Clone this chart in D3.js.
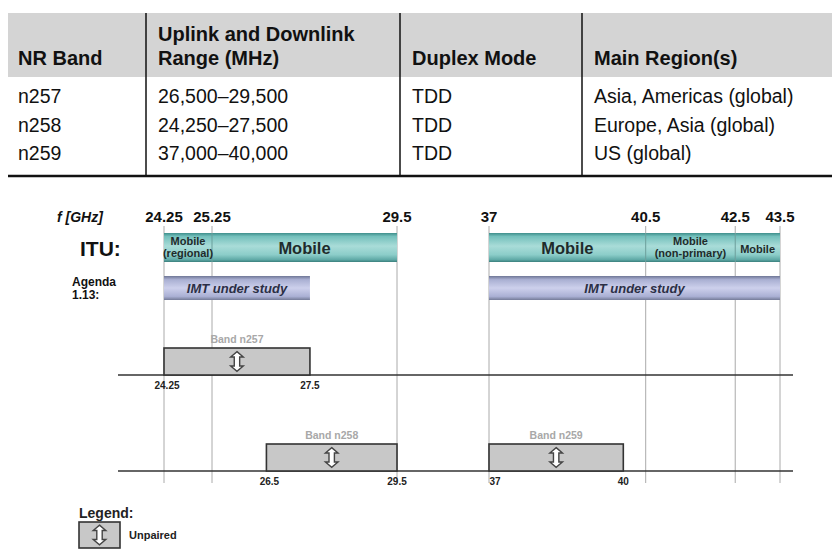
<!DOCTYPE html>
<html>
<head>
<meta charset="utf-8">
<script src="https://cdn.jsdelivr.net/npm/d3@7"></script>
<style>
  body { margin: 0; background: #fff; }
  svg { display: block; }
</style>
</head>
<body>
<div id="chart"></div>
<script>
// table content
const tableHeaders = [["NR Band"], ["Uplink and Downlink", "Range (MHz)"], ["Duplex Mode"], ["Main Region(s)"]];
const tableRows = [
  ["n257", "26,500\u201329,500", "TDD", "Asia, Americas (global)"],
  ["n258", "24,250\u201327,500", "TDD", "Europe, Asia (global)"],
  ["n259", "37,000\u201340,000", "TDD", "US (global)"]
];

// frequency markers (GHz)
const topTicks = [24.25, 25.25, 29.5, 37, 40.5, 42.5, 43.5];
const ituSegments = [
  { from: 24.25, to: 25.25, lines: ["Mobile", "(regional)"], big: false },
  { from: 25.25, to: 29.5, lines: ["Mobile"], big: true },
  { from: 37, to: 40.5, lines: ["Mobile"], big: true },
  { from: 40.5, to: 42.5, lines: ["Mobile", "(non-primary)"], big: false },
  { from: 42.5, to: 43.5, lines: ["Mobile"], big: false }
];
const imtSegments = [
  { from: 24.25, to: 27.5, label: "IMT under study" },
  { from: 37, to: 43.5, label: "IMT under study" }
];
const bands = [
  { name: "Band n257", from: 24.25, to: 27.5, row: 0, fromLabel: "24.25", toLabel: "27.5" },
  { name: "Band n258", from: 26.5, to: 29.5, row: 1, fromLabel: "26.5", toLabel: "29.5" },
  { name: "Band n259", from: 37, to: 40, row: 1, fromLabel: "37", toLabel: "40" }
];

const W = 834, H = 553;
const svg = d3.select("#chart").append("svg").attr("width", W).attr("height", H);

// ---------- table ----------
const colX = [0, 146, 400, 582, 834];
const narrow = "'Liberation Sans Narrow', 'Liberation Sans', Arial, sans-serif";
const tableTop = 13, headBottom = 77, tableBottom = 176;
const rowY = d3.scalePoint().domain(d3.range(tableRows.length)).range([96, 153]);

svg.append("rect")
  .attr("x", 8).attr("y", tableTop)
  .attr("width", 824).attr("height", headBottom - tableTop)
  .attr("fill", "#d4d4d4");

svg.selectAll(".col-div")
  .data(colX.slice(1, -1))
  .enter().append("line")
  .attr("x1", d => d).attr("x2", d => d)
  .attr("y1", tableTop).attr("y2", tableBottom)
  .attr("stroke", "#111").attr("stroke-width", 1.5);

svg.append("line")
  .attr("x1", 8).attr("x2", 832)
  .attr("y1", tableBottom).attr("y2", tableBottom)
  .attr("stroke", "#111").attr("stroke-width", 2.5);

tableHeaders.forEach((lines, c) => {
  const t = svg.append("text")
    .attr("x", colX[c] + (c === 0 ? 18 : 12))
    .attr("font-family", narrow).attr("font-weight", "bold")
    .attr("font-size", 20).attr("fill", "#111");
  lines.forEach((l, i) => {
    t.append("tspan").attr("x", colX[c] + (c === 0 ? 18 : 12))
      .attr("y", 65 - (lines.length - 1 - i) * 24).text(l);
  });
});

tableRows.forEach((row, r) => {
  row.forEach((cell, c) => {
    svg.append("text")
      .attr("x", colX[c] + (c === 0 ? 18 : 12))
      .attr("y", rowY(r) + 7)
      .attr("font-family", narrow).attr("font-size", 19.5).attr("fill", "#111")
      .text(cell);
  });
});

// ---------- spectrum chart ----------
const sans = "'Liberation Sans', Arial, sans-serif";
// broken axis: 29.5..37 GHz is compressed
const x = d3.scaleLinear()
  .domain([24.25, 25.25, 29.5, 37, 43.5])
  .range([164, 212, 397, 489, 780]);
const axisY = d3.scalePoint().domain([0, 1]).range([375, 471]);
const bandH = 27;

const defs = svg.append("defs");
const tealG = defs.append("linearGradient").attr("id", "teal").attr("x1", 0).attr("x2", 0).attr("y1", 0).attr("y2", 1);
[[0, "#3f8f8c"], [0.12, "#74c0bc"], [0.45, "#a9dcd8"], [0.75, "#8ccdc9"], [0.92, "#5fa9a6"], [1, "#3a7f7c"]]
  .forEach(s => tealG.append("stop").attr("offset", s[0]).attr("stop-color", s[1]));
const imtG = defs.append("linearGradient").attr("id", "imt").attr("x1", 0).attr("x2", 0).attr("y1", 0).attr("y2", 1);
[[0, "#6f7796"], [0.15, "#a9afd2"], [0.5, "#cdd0ec"], [0.85, "#aab0d4"], [1, "#747b98"]]
  .forEach(s => imtG.append("stop").attr("offset", s[0]).attr("stop-color", s[1]));

// vertical guide lines
svg.selectAll(".guide")
  .data(topTicks)
  .enter().append("line")
  .attr("x1", d => x(d)).attr("x2", d => x(d))
  .attr("y1", 226).attr("y2", 483)
  .attr("stroke", "#aaa").attr("stroke-width", 1);

// top tick labels
svg.append("text")
  .attr("x", 57).attr("y", 222)
  .attr("font-family", sans).attr("font-weight", "bold").attr("font-style", "italic")
  .attr("font-size", 14).attr("fill", "#111")
  .text("f [GHz]");

svg.selectAll(".top-tick")
  .data(topTicks)
  .enter().append("text")
  .attr("x", d => x(d)).attr("y", 222)
  .attr("text-anchor", "middle")
  .attr("font-family", sans).attr("font-weight", "bold").attr("font-size", 15)
  .attr("fill", "#111")
  .text(d => d);

// ITU row
svg.append("text")
  .attr("x", 80).attr("y", 256)
  .attr("font-family", sans).attr("font-weight", "bold").attr("font-size", 21)
  .attr("fill", "#111").text("ITU:");

svg.selectAll(".itu")
  .data(ituSegments)
  .enter().append("rect")
  .attr("x", d => x(d.from)).attr("y", 233)
  .attr("width", d => x(d.to) - x(d.from)).attr("height", 29)
  .attr("fill", "url(#teal)");

svg.selectAll(".itu-div")
  .data(ituSegments.filter((d, i) => i > 0 && ituSegments[i - 1].to === d.from))
  .enter().append("line")
  .attr("x1", d => x(d.from)).attr("x2", d => x(d.from))
  .attr("y1", 233).attr("y2", 262)
  .attr("stroke", "#6a9f9c").attr("stroke-width", 1);

ituSegments.forEach(d => {
  const cx = (x(d.from) + x(d.to)) / 2;
  const fs = d.big ? 16.5 : 11;
  const t = svg.append("text")
    .attr("text-anchor", "middle")
    .attr("font-family", sans).attr("font-weight", "bold").attr("font-size", fs)
    .attr("fill", "#1f2b2b");
  d.lines.forEach((l, i) => {
    const y = d.lines.length === 1 ? 253 : 245 + i * 12;
    t.append("tspan").attr("x", cx).attr("y", d.big ? 254 : y).text(l);
  });
});

// Agenda row
svg.append("text")
  .attr("font-family", sans).attr("font-weight", "bold").attr("font-size", 12)
  .attr("fill", "#111")
  .selectAll("tspan").data(["Agenda", "1.13:"])
  .enter().append("tspan")
  .attr("x", 72).attr("y", (d, i) => 286 + i * 13).text(d => d);

svg.selectAll(".imt")
  .data(imtSegments)
  .enter().append("rect")
  .attr("x", d => x(d.from)).attr("y", 276)
  .attr("width", d => x(d.to) - x(d.from)).attr("height", 24)
  .attr("fill", "url(#imt)");

svg.selectAll(".imt-label")
  .data(imtSegments)
  .enter().append("text")
  .attr("x", d => (x(d.from) + x(d.to)) / 2).attr("y", 293)
  .attr("text-anchor", "middle")
  .attr("font-family", sans).attr("font-weight", "bold").attr("font-style", "italic")
  .attr("font-size", 13).attr("fill", "#2b2f45")
  .text(d => d.label);

// axis lines for band rows
svg.selectAll(".band-axis")
  .data(axisY.domain())
  .enter().append("line")
  .attr("x1", 118).attr("x2", 793)
  .attr("y1", d => axisY(d)).attr("y2", d => axisY(d))
  .attr("stroke", "#333").attr("stroke-width", 1.6);

function arrowPath(cx, cy, s) {
  const p = [[0, -11], [7, -5], [3, -5], [3, 5], [7, 5], [0, 11], [-7, 5], [-3, 5], [-3, -5], [-7, -5]];
  return "M" + p.map(q => (cx + q[0] * s) + "," + (cy + q[1] * s)).join("L") + "Z";
}

const bandG = svg.selectAll(".band").data(bands).enter().append("g");
bandG.append("rect")
  .attr("x", d => x(d.from)).attr("y", d => axisY(d.row) - bandH)
  .attr("width", d => x(d.to) - x(d.from)).attr("height", bandH)
  .attr("fill", "#c8c8c8").attr("stroke", "#333").attr("stroke-width", 1.6);
bandG.append("path")
  .attr("d", d => arrowPath((x(d.from) + x(d.to)) / 2, axisY(d.row) - bandH / 2, 0.9))
  .attr("fill", "#fff").attr("stroke", "#444").attr("stroke-width", 1.4);
bandG.append("text")
  .attr("x", d => (x(d.from) + x(d.to)) / 2).attr("y", d => axisY(d.row) - bandH - 5)
  .attr("text-anchor", "middle")
  .attr("font-family", sans).attr("font-weight", "bold").attr("font-size", 10.5)
  .attr("fill", "#a8a8a8")
  .text(d => d.name);
bandG.append("text")
  .attr("x", d => x(d.from) + (d.fromLabel === "37" ? 6 : 3)).attr("y", d => axisY(d.row) + 14)
  .attr("text-anchor", "middle")
  .attr("font-family", sans).attr("font-weight", "bold").attr("font-size", 10)
  .attr("fill", "#222")
  .text(d => d.fromLabel);
bandG.append("text")
  .attr("x", d => x(d.to)).attr("y", d => axisY(d.row) + 14)
  .attr("text-anchor", "middle")
  .attr("font-family", sans).attr("font-weight", "bold").attr("font-size", 10)
  .attr("fill", "#222")
  .text(d => d.toLabel);

// legend
svg.append("text")
  .attr("x", 79).attr("y", 518)
  .attr("font-family", sans).attr("font-weight", "bold").attr("font-size", 14)
  .attr("fill", "#222").text("Legend:");
svg.append("rect")
  .attr("x", 79).attr("y", 522).attr("width", 41).attr("height", 26)
  .attr("fill", "#c8c8c8").attr("stroke", "#333").attr("stroke-width", 1.6);
svg.append("path")
  .attr("d", arrowPath(99.5, 535, 0.9))
  .attr("fill", "#fff").attr("stroke", "#444").attr("stroke-width", 1.4);
svg.append("text")
  .attr("x", 129).attr("y", 539)
  .attr("font-family", sans).attr("font-weight", "bold").attr("font-size", 11)
  .attr("fill", "#222").text("Unpaired");
</script>
</body>
</html>
